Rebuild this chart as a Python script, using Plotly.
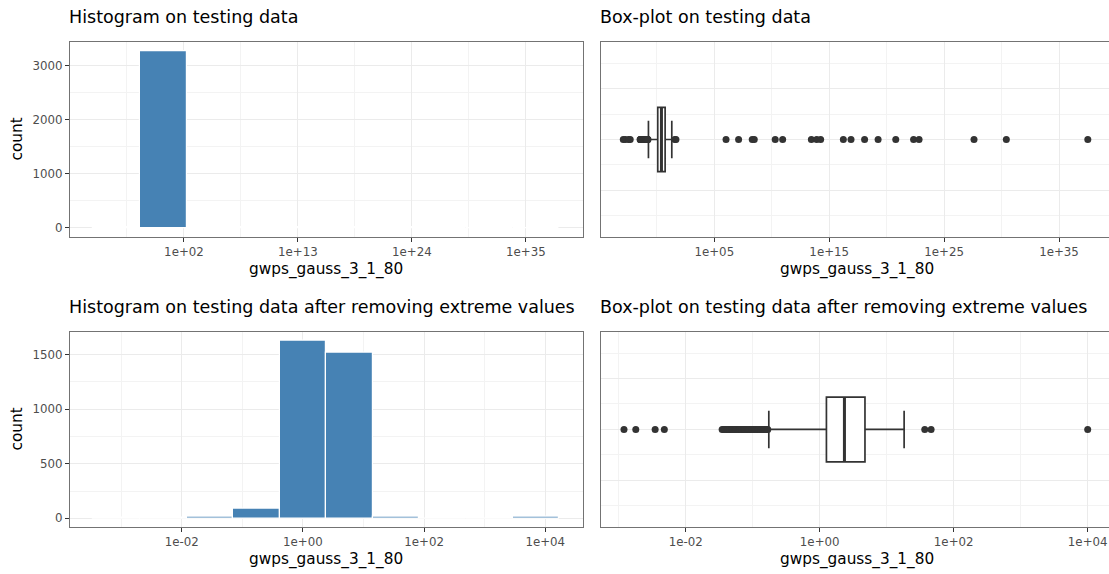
import plotly.graph_objects as go

# ---------------- data ----------------
# Histograms are binned on the log10 scale: edges are powers of ten.
hist_all_edges = [-6.75, -2.25, 2.25, 6.75, 11.24, 15.74, 20.24, 24.73, 29.23, 33.73, 38.22]
hist_all_counts = [4, 3263, 1, 5, 3, 4, 3, 1, 1, 1]
hist_all_tickvals = [2, 13, 24, 35]
hist_all_ticktext = ["1e+02", "1e+13", "1e+24", "1e+35"]
hist_all_minor = [-3.5, 7.5, 18.5, 29.5]

hist_trim_edges = [-3.46, -2.69, -1.92, -1.15, -0.385, 0.385, 1.15, 1.92, 2.69, 3.46, 4.23]
hist_trim_counts = [2, 2, 15, 86, 1629, 1515, 15, 0, 0, 14]
hist_trim_tickvals = [-2, 0, 2, 4]
hist_trim_ticktext = ["1e-02", "1e+00", "1e+02", "1e+04"]
hist_trim_minor = [-3, -1, 1, 3]

# Box-plot summaries (original units)
box_all = dict(lower=0.186, q1=1.20, median=2.51, q3=5.25, upper=20.0)
box_trim = dict(lower=0.174, q1=1.26, median=2.34, q3=4.74, upper=18.2)

low_outliers = [0.0012, 0.0018, 0.0035, 0.0048,
                0.035, 0.037, 0.039, 0.041, 0.043, 0.045, 0.047, 0.049, 0.051,
                0.054, 0.056, 0.059, 0.062, 0.065, 0.068, 0.071, 0.074, 0.077,
                0.081, 0.085, 0.089, 0.093, 0.098, 0.103, 0.108, 0.113, 0.119,
                0.125, 0.131, 0.138, 0.145, 0.152, 0.160, 0.168]
high_outliers_trim = [37.0, 46.0, 10000.0]
high_outliers_all = [37.0, 46.0, 1.05e6, 1.3e7, 2.0e8, 3.0e8, 2.0e10, 8.9e10,
                     2.8e13, 8.1e13, 1.8e14, 1.7e16, 7.9e16, 1.2e18, 1.8e19,
                     6.2e20, 2.2e22, 6.6e22, 4.0e27, 2.6e30, 3.2e37]

box_all_tickvals = [1e5, 1e15, 1e25, 1e35]
box_all_ticktext = ["1e+05", "1e+15", "1e+25", "1e+35"]
box_all_minor = [1e0, 1e10, 1e20, 1e30]
box_trim_tickvals = [1e-2, 1e0, 1e2, 1e4]
box_trim_ticktext = ["1e-02", "1e+00", "1e+02", "1e+04"]
box_trim_minor = [1e-3, 1e-1, 1e1, 1e3]

var_name = "gwps_gauss_3_1_80"

# ---------------- style ----------------
FONT = "DejaVu Sans"
BAR = "#4682B4"
INK = "#333333"
GRID = "#EBEBEB"
GRID_MINOR = "#F3F3F3"
BORDER = "#737373"
TICKFONT = dict(family=FONT, size=11.8, color="#4D4D4D")

W, H = 1109, 574
left_dom = [70 / W, 582.5 / W]
right_dom = [601 / W, 1.0]
top_dom = [1 - 236.7 / H, 1 - 42.3 / H]
bot_dom = [1 - 527.2 / H, 1 - 331.7 / H]

fig = go.Figure()


def hist_trace(edges, counts, xa, ya):
    centers = [(a + b) / 2 for a, b in zip(edges[:-1], edges[1:])]
    widths = [b - a for a, b in zip(edges[:-1], edges[1:])]
    return go.Bar(x=centers, y=counts, width=widths, xaxis=xa, yaxis=ya,
                  marker=dict(color=BAR, line=dict(color="white", width=1.2)),
                  hoverinfo="x+y")


fig.add_trace(hist_trace(hist_all_edges, hist_all_counts, "x", "y"))
fig.add_trace(hist_trace(hist_trim_edges, hist_trim_counts, "x3", "y3"))

BOX_W = 0.254


def box_traces(stats, outliers, xa, ya):
    traces = [go.Box(
        y=[0], q1=[stats["q1"]], median=[stats["median"]], q3=[stats["q3"]],
        lowerfence=[stats["lower"]], upperfence=[stats["upper"]],
        orientation="h", width=BOX_W, whiskerwidth=0.58, boxpoints=False,
        fillcolor="white", line=dict(color=INK, width=1.7),
        xaxis=xa, yaxis=ya)]
    # thicker median bar
    traces.append(go.Scatter(
        x=[stats["median"], stats["median"]], y=[-BOX_W / 2, BOX_W / 2],
        mode="lines", line=dict(color=INK, width=3), xaxis=xa, yaxis=ya,
        hoverinfo="skip"))
    traces.append(go.Scatter(
        x=outliers, y=[0] * len(outliers), mode="markers",
        marker=dict(color=INK, size=7), xaxis=xa, yaxis=ya))
    return traces


for t in box_traces(box_all, low_outliers + high_outliers_all, "x2", "y2"):
    fig.add_trace(t)
for t in box_traces(box_trim, low_outliers + high_outliers_trim, "x4", "y4"):
    fig.add_trace(t)

common = dict(showline=True, linecolor=BORDER, linewidth=1.2, zeroline=False,
              showgrid=True, gridcolor=GRID, gridwidth=1.2,
              tickfont=TICKFONT, ticklen=4, tickcolor=INK, tickwidth=1)


def minor(vals):
    return dict(tickvals=vals, showgrid=True, gridcolor=GRID_MINOR, gridwidth=0.8)


def hist_span(edges, frac=0.05):
    span = edges[-1] - edges[0]
    return [edges[0] - frac * span, edges[-1] + frac * span]


fig.update_layout(
    width=W, height=H, margin=dict(l=0, r=0, t=0, b=0),
    paper_bgcolor="white", plot_bgcolor="white", showlegend=False,
    font=dict(family=FONT, color="black"),
    bargap=0,
    xaxis=dict(domain=left_dom, anchor="y", range=hist_span(hist_all_edges),
               tickvals=hist_all_tickvals, ticktext=hist_all_ticktext,
               minor=minor(hist_all_minor), ticks="outside", mirror=True, **common),
    yaxis=dict(domain=top_dom, anchor="x",
               range=[-0.05 * max(hist_all_counts), 1.05 * max(hist_all_counts)],
               tickvals=[0, 1000, 2000, 3000], minor=minor([500, 1500, 2500]),
               ticks="outside", mirror=True, **common),
    xaxis3=dict(domain=left_dom, anchor="y3", range=hist_span(hist_trim_edges),
                tickvals=hist_trim_tickvals, ticktext=hist_trim_ticktext,
                minor=minor(hist_trim_minor), ticks="outside", mirror=True, **common),
    yaxis3=dict(domain=bot_dom, anchor="x3",
                range=[-0.05 * max(hist_trim_counts), 1.05 * max(hist_trim_counts)],
                tickvals=[0, 500, 1000, 1500], minor=minor([250, 750, 1250]),
                ticks="outside", mirror=True, **common),
    xaxis2=dict(domain=right_dom, anchor="y2", type="log", range=[-4.86, 39.35],
                tickvals=box_all_tickvals, ticktext=box_all_ticktext,
                minor=minor(box_all_minor), ticks="outside", mirror=True, **common),
    yaxis2=dict(domain=top_dom, anchor="x2", range=[-0.384, 0.384],
                tickvals=[-0.2, 0, 0.2], showticklabels=False, ticks="",
                minor=minor([-0.3, -0.1, 0.1, 0.3]), mirror=False, **common),
    xaxis4=dict(domain=right_dom, anchor="y4", type="log", range=[-3.264, 4.318],
                tickvals=box_trim_tickvals, ticktext=box_trim_ticktext,
                minor=minor(box_trim_minor), ticks="outside", mirror=True, **common),
    yaxis4=dict(domain=bot_dom, anchor="x4", range=[-0.384, 0.384],
                tickvals=[-0.2, 0, 0.2], showticklabels=False, ticks="",
                minor=minor([-0.3, -0.1, 0.1, 0.3]), mirror=False, **common),
)

# Zero-count bins still carry a white outline along the baseline.
for xa, ya, edges in (("x", "y", hist_all_edges), ("x3", "y3", hist_trim_edges)):
    fig.add_shape(type="line", xref=xa, yref=ya, x0=edges[0], x1=edges[-1],
                  y0=0, y1=0, line=dict(color="white", width=1.4), layer="below")

titles = [
    ("Histogram on testing data", left_dom[0], 17),
    ("Box-plot on testing data", right_dom[0], 17),
    ("Histogram on testing data after removing extreme values", left_dom[0], 307),
    ("Box-plot on testing data after removing extreme values", right_dom[0], 307),
]
for text, x, ypx in titles:
    fig.add_annotation(text=text, x=x, y=1 - ypx / H, xref="paper", yref="paper",
                       xanchor="left", yanchor="middle", showarrow=False, xshift=-3,
                       font=dict(family=FONT, size=17.5, color="black"))

axis_title_centers = [(70 + 582.5) / 2 / W, (601 + 1112) / 2 / W]
for xc in axis_title_centers:
    for ypx in (269, 559):
        fig.add_annotation(text=var_name, x=xc, y=1 - ypx / H, xref="paper", yref="paper",
                           xanchor="center", yanchor="middle", showarrow=False,
                           font=dict(family=FONT, size=15.3, color="black"))

for ypx in (139.5, 429.5):
    fig.add_annotation(text="count", x=16 / W, y=1 - ypx / H, xref="paper", yref="paper",
                       xanchor="center", yanchor="middle", textangle=-90, showarrow=False,
                       font=dict(family=FONT, size=15.3, color="black"))

fig.write_html("out.html")
